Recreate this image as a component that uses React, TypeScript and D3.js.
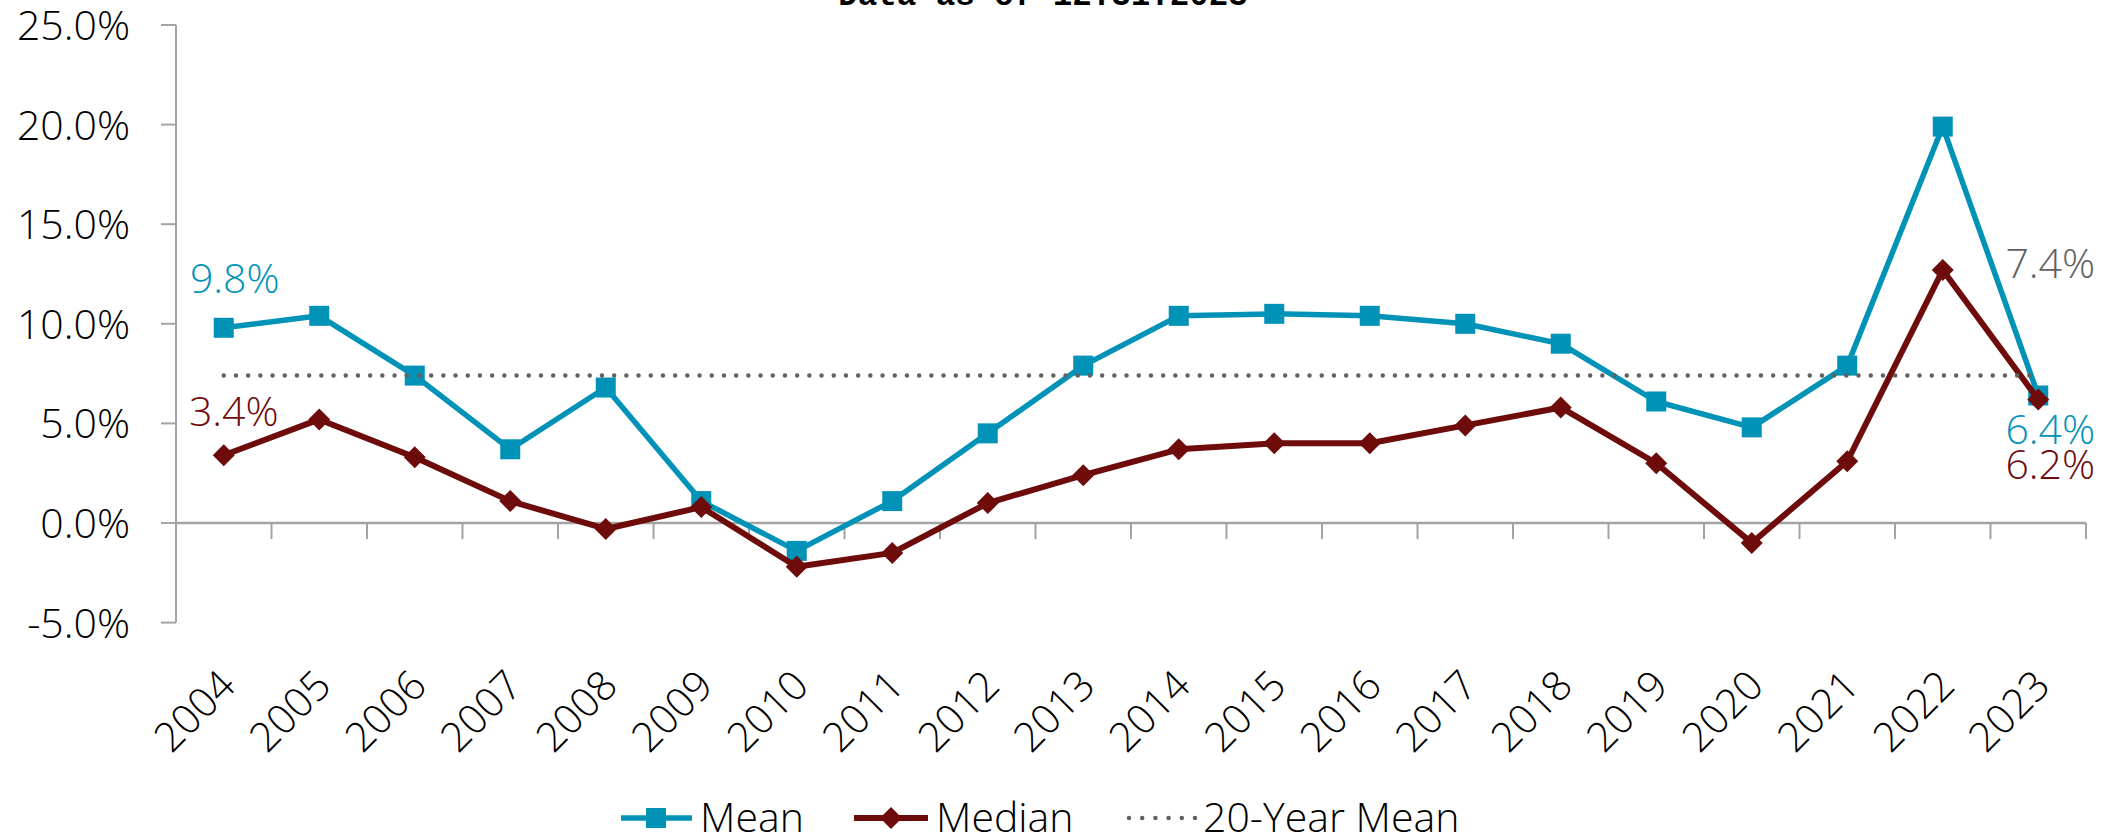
import React from "react";
import * as d3 from "d3";

// Annual returns (%), 2004–2023
const years = [
  "2004", "2005", "2006", "2007", "2008", "2009", "2010", "2011", "2012", "2013",
  "2014", "2015", "2016", "2017", "2018", "2019", "2020", "2021", "2022", "2023",
];
const meanValues = [9.8, 10.4, 7.4, 3.7, 6.8, 1.1, -1.4, 1.1, 4.5, 7.9, 10.4, 10.5, 10.4, 10.0, 9.0, 6.1, 4.8, 7.9, 19.9, 6.4];
const medianValues = [3.4, 5.2, 3.3, 1.1, -0.3, 0.8, -2.2, -1.5, 1.0, 2.4, 3.7, 4.0, 4.0, 4.9, 5.8, 3.0, -1.0, 3.1, 12.7, 6.2];
const twentyYearMean = 7.4;
const yTicks = [-5, 0, 5, 10, 15, 20, 25];
const titleText = "Data as of 12.31.2023";
const legendNames = ["Mean", "Median", "20-Year Mean"];

const W = 2121;
const H = 836;
const FONT = "'Open Sans', 'Noto Sans', sans-serif";
const WEIGHT = 300;
const TEAL = "#0093B7";
const RED = "#6E0B0B";
const GREY = "#616161";
const AXIS = "#A3A3A3";

const fmt = (v: number) => `${v.toFixed(1)}%`;

export default function App() {
  const x = d3.scaleBand<string>().domain(years).range([176, 2086]).padding(0);
  const y = d3.scaleLinear().domain([-5, 25]).range([622.6, 25]);
  const cx = (yr: string) => (x(yr) as number) + x.bandwidth() / 2;

  const line = d3
    .line<number>()
    .x((_, i) => cx(years[i]))
    .y((d) => y(d));

  const sq = 20;
  const diamond = (px: number, py: number, r = 11) =>
    `M${px},${py - r}L${px + r},${py}L${px},${py + r}L${px - r},${py}Z`;

  const first = years[0];
  const last = years[years.length - 1];
  const n = years.length - 1;

  const dotDash = "0 12.2";

  return (
    <div style={{ position: "absolute", left: 0, top: 0 }}>
      <svg width={W} height={H} style={{ display: "block", background: "#fff" }}>
        {/* title, mostly clipped at the top edge */}
        <text
          x={1043}
          y={4.5}
          textAnchor="middle"
          fontFamily="'Liberation Mono', 'DejaVu Sans Mono', monospace"
          fontSize={32.5}
          fontWeight="bold"
          fill="#000"
        >
          {titleText}
        </text>

        {/* y axis */}
        <line x1={176} x2={176} y1={y(25)} y2={y(-5)} stroke={AXIS} strokeWidth={2} />
        {yTicks.map((t) => (
          <g key={t}>
            <line x1={161} x2={176} y1={y(t)} y2={y(t)} stroke={AXIS} strokeWidth={2} />
            <text
              x={130}
              y={y(t) + 15}
              textAnchor="end"
              fontFamily={FONT}
              fontWeight={WEIGHT}
              fontSize={41}
              fill="#000"
            >
              {fmt(t)}
            </text>
          </g>
        ))}

        {/* x axis at zero */}
        <line x1={176} x2={2086} y1={y(0)} y2={y(0)} stroke={AXIS} strokeWidth={2.5} />
        {years.map((yr) => (
          <line
            key={`t${yr}`}
            x1={x(yr) as number}
            x2={x(yr) as number}
            y1={y(0)}
            y2={y(0) + 16}
            stroke={AXIS}
            strokeWidth={2}
          />
        ))}
        <line x1={2086} x2={2086} y1={y(0)} y2={y(0) + 16} stroke={AXIS} strokeWidth={2} />
        {years.map((yr) => (
          <text
            key={`l${yr}`}
            transform={`translate(${cx(yr) + 14},${688}) rotate(-45)`}
            textAnchor="end"
            fontFamily={FONT}
            fontWeight={WEIGHT}
            fontSize={41}
            fill="#000"
          >
            {yr}
          </text>
        ))}

        {/* Mean series */}
        <path d={line(meanValues) ?? ""} fill="none" stroke={TEAL} strokeWidth={5.5} strokeLinejoin="round" />
        {meanValues.map((v, i) => (
          <rect
            key={`m${i}`}
            x={cx(years[i]) - sq / 2}
            y={y(v) - sq / 2}
            width={sq}
            height={sq}
            fill={TEAL}
          />
        ))}

        {/* Median series */}
        <path d={line(medianValues) ?? ""} fill="none" stroke={RED} strokeWidth={6} strokeLinejoin="round" />
        {medianValues.map((v, i) => (
          <path key={`d${i}`} d={diamond(cx(years[i]), y(v))} fill={RED} />
        ))}

        {/* 20-year mean reference */}
        <line
          x1={cx(first)}
          x2={cx(last)}
          y1={y(twentyYearMean)}
          y2={y(twentyYearMean)}
          stroke={GREY}
          strokeWidth={4.5}
          strokeLinecap="round"
          strokeDasharray={dotDash}
        />

        {/* value labels */}
        <g fontFamily={FONT} fontWeight={WEIGHT} fontSize={41} textAnchor="middle">
          <text x={cx(first) + 11} y={y(meanValues[0]) - 35} fill={TEAL}>
            {fmt(meanValues[0])}
          </text>
          <text x={cx(first) + 10} y={y(medianValues[0]) - 29} fill={RED}>
            {fmt(medianValues[0])}
          </text>
          <text x={cx(last) + 12} y={y(twentyYearMean) - 98} fill={GREY}>
            {fmt(twentyYearMean)}
          </text>
          <text x={cx(last) + 12} y={y(meanValues[n]) + 48} fill={TEAL}>
            {fmt(meanValues[n])}
          </text>
          <text x={cx(last) + 12} y={y(medianValues[n]) + 80} fill={RED}>
            {fmt(medianValues[n])}
          </text>
        </g>

        {/* legend */}
        <g fontFamily={FONT} fontWeight={WEIGHT} fontSize={41} fill="#000">
          <line x1={621} x2={692} y1={818} y2={818} stroke={TEAL} strokeWidth={5.5} />
          <rect x={656 - sq / 2} y={818 - sq / 2} width={sq} height={sq} fill={TEAL} />
          <text x={700} y={832}>{legendNames[0]}</text>

          <line x1={854} x2={928} y1={818} y2={818} stroke={RED} strokeWidth={6} />
          <path d={diamond(891, 818)} fill={RED} />
          <text x={936} y={832}>{legendNames[1]}</text>

          <line
            x1={1129}
            x2={1195}
            y1={818}
            y2={818}
            stroke={GREY}
            strokeWidth={4.5}
            strokeLinecap="round"
            strokeDasharray="0 13.2"
          />
          <text x={1203} y={832}>{legendNames[2]}</text>
        </g>
      </svg>
    </div>
  );
}
